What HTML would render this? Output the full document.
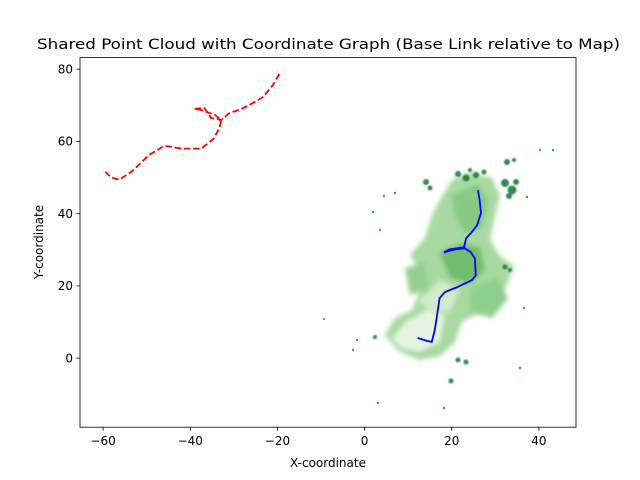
<!DOCTYPE html>
<html><head><meta charset="utf-8"><style>
body{margin:0;background:#fff}
svg{display:block;font-family:"DejaVu Sans","Liberation Sans",sans-serif}
</style></head><body>
<svg id="chart" width="640" height="480" viewBox="0 0 640 480">
<defs><filter id="bl" x="-20%" y="-20%" width="140%" height="140%"><feGaussianBlur stdDeviation="2.5"/></filter>
<filter id="bl2"><feGaussianBlur stdDeviation="0.8"/></filter>
<clipPath id="pc"><rect x="80" y="57.6" width="496" height="369.6"/></clipPath></defs>
<rect width="640" height="480" fill="#fff"/>
<g id="cloud" clip-path="url(#pc)">
<path filter="url(#bl)" fill="#a8d9a2" d="M385,335 L395,318 L412,310 L420,290 L418,268 L410,255 L425,238 L432,215 L440,200 L452,180 L470,172 L492,178 L500,196 L494,220 L490,240 L500,256 L514,266 L508,282 L500,298 L480,312 L462,322 L455,342 L440,356 L420,360 L400,352 Z"/>
<path filter="url(#bl)" fill="#e4f4e0" d="M392,338 L405,322 L430,308 L445,315 L440,342 L420,352 L400,348 Z"/>
<path filter="url(#bl)" fill="#d0ebcb" d="M418,300 L440,280 L460,290 L450,312 L430,312 Z"/>
<path filter="url(#bl)" fill="#6fbd70" d="M440,252 L462,243 L480,248 L485,270 L470,284 L450,278 Z"/>
<path filter="url(#bl)" fill="#86ca85" d="M452,195 L478,184 L488,200 L482,228 L465,234 L455,215 Z"/>
<path filter="url(#bl)" fill="#8fcf8d" d="M470,288 L497,278 L508,298 L492,318 L470,312 Z"/>
<path filter="url(#bl)" fill="#94d091" d="M405,268 L425,262 L428,290 L410,295 Z"/>
<g filter="url(#bl2)" fill="#1e7b3e" opacity="0.9">
<circle cx="458" cy="174" r="3"/><circle cx="466" cy="178" r="3.5"/><circle cx="476" cy="175" r="3"/><circle cx="484" cy="172" r="2.5"/><circle cx="470" cy="170" r="2"/>
<circle cx="505" cy="183" r="4"/><circle cx="512" cy="190" r="4.5"/><circle cx="516" cy="182" r="3"/><circle cx="509" cy="196" r="3"/>
<circle cx="507" cy="162" r="3"/><circle cx="514" cy="160" r="2"/>
<circle cx="426" cy="182" r="3"/><circle cx="430" cy="188" r="2.5"/>
<circle cx="458" cy="360" r="2.5"/><circle cx="466" cy="362" r="2.5"/>
<circle cx="451" cy="381" r="2.5"/><circle cx="375" cy="337" r="2"/><circle cx="505" cy="267" r="2.5"/><circle cx="510" cy="270" r="2"/>
</g>
<g fill="#3a9a52">
<circle cx="373" cy="212" r="1.2"/><circle cx="380" cy="230" r="1.2"/><circle cx="395" cy="193" r="1.2"/><circle cx="384" cy="196" r="1.2"/>
<circle cx="527" cy="197" r="1.2"/><circle cx="540" cy="150" r="1.2"/><circle cx="553" cy="150" r="1.2"/>
<circle cx="444" cy="408" r="1.2"/><circle cx="378" cy="403" r="1.2"/><circle cx="520" cy="368" r="1.2"/>
<circle cx="524" cy="308" r="1.2"/><circle cx="353" cy="350" r="1.2"/><circle cx="357" cy="340" r="1.2"/><circle cx="324" cy="319" r="1"/>
</g>
</g>
<g id="lines" clip-path="url(#pc)"></g>
<rect x="80" y="57.6" width="496" height="369.6" fill="none" stroke="#000" stroke-width="0.8"/>
<g id="axes"></g>
<text x="37" y="49" font-size="14.4" textLength="583" lengthAdjust="spacingAndGlyphs">Shared Point Cloud with Coordinate Graph (Base Link relative to Map)</text>
<text x="328" y="467" text-anchor="middle" font-size="12">X-coordinate</text>
<text x="43" y="242" text-anchor="middle" font-size="12" transform="rotate(-90 43 242)">Y-coordinate</text>
</svg>
<script>
const xTicks=[-60,-40,-20,0,20,40];
const yTicks=[0,20,40,60,80];
const redX=[-59.5,-58.1,-56.3,-53.5,-49.4,-45.9,-42.0,-37.5,-34.7,-33.3,-32.9,-34.3,-37.5,-39.1,-36.8,-35.2,-32.9,-31.1,-28.4,-26.1,-23.4,-21.1,-19.5];
const redY=[51.6,50.0,49.4,51.6,56.3,58.8,58.0,58.0,60.7,63.7,65.9,67.3,68.7,69.0,69.3,66.5,65.9,67.8,68.9,70.3,72.2,75.5,78.8];
const blueX=[12.2,14.3,15.4,16.1,16.8,17.2,18.4,21.1,24.6,25.5,25.3,24.4,23.0,20.7,18.2,19.4,22.8,23.3,24.6,25.8,26.7,26.4,26.0];
const blueY=[5.6,4.8,4.5,7.8,13.3,16.6,18.3,19.6,21.6,22.9,27.6,29.3,30.4,30.1,29.3,30.1,30.7,33.2,34.9,36.8,40.1,43.7,46.5];
const X0=-65.3,X1=48.5,Y0=-19.1,Y1=83.2;
const sx=v=>80+(v-X0)/(X1-X0)*496;
const sy=v=>427.2-(v-Y0)/(Y1-Y0)*369.6;
const NS='http://www.w3.org/2000/svg';
const ax=document.getElementById('axes'),ln=document.getElementById('lines');
function mk(t,a,p){const e=document.createElementNS(NS,t);for(const k in a)e.setAttribute(k,a[k]);p.appendChild(e);return e;}
xTicks.forEach(v=>{const x=sx(v);
const t=mk('line',{x1:x,x2:x,y1:427.2,y2:430.7,stroke:'#000','stroke-width':0.8},ax);


const l=mk('text',{x:x,y:445,'text-anchor':'middle','font-size':12},ax);l.textContent=v<0?'\u2212'+(-v):v;

});
yTicks.forEach(v=>{const y=sy(v);
const t=mk('line',{x1:76.5,x2:80,y1:y,y2:y,stroke:'#000','stroke-width':0.8},ax);


const l=mk('text',{x:73,y:y+4.3,'text-anchor':'end','font-size':12},ax);l.textContent=v;

});
const r=mk('polyline',{points:redX.map((v,i)=>sx(v)+','+sy(redY[i])).join(' '),fill:'none',stroke:'#ff0000','stroke-width':1.8,'stroke-dasharray':'6.5,2.8'},ln);


const b=mk('polyline',{points:blueX.map((v,i)=>sx(v)+','+sy(blueY[i])).join(' '),fill:'none',stroke:'#0000ff','stroke-width':1.8},ln);


</script>
</body></html>
